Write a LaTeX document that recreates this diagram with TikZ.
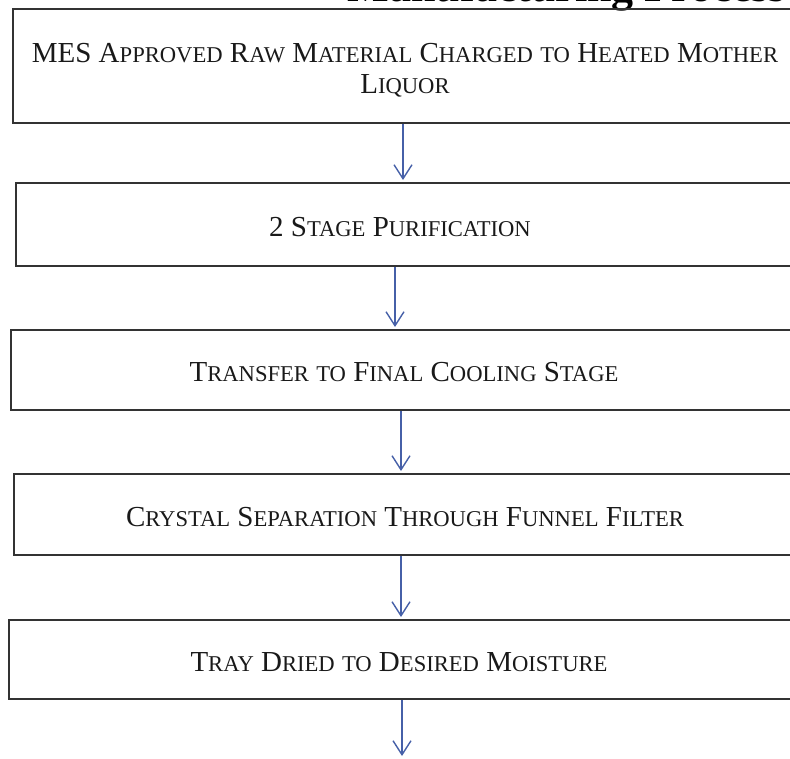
\documentclass[tikz,border=0pt]{standalone}
\usepackage{fontspec}
\setmainfont{Liberation Serif}
\usetikzlibrary{arrows.meta}
\newcommand\sk[1]{{\fontsize{22.6}{23}\selectfont #1}}
\definecolor{arrowblue}{HTML}{4660A8}
\definecolor{boxline}{HTML}{333333}
\tikzset{
  x=1pt, y=-1pt,
  stepbox/.style={draw=boxline, line width=1.8pt, minimum width=788pt, anchor=north west, inner sep=0pt},
  lbl/.style={font=\fontsize{29}{31}\selectfont, text=black!90, align=center, inner sep=0pt},
  arr/.style={draw=arrowblue, line width=1.4pt, -{Straight Barb[length=14pt, width=18pt, line width=1.4pt]}},
}
\begin{document}
\begin{tikzpicture}
\useasboundingbox (0,0) rectangle (790,758);
\clip (0,0) rectangle (790,758);
% cut-off title
\node[anchor=base east, inner sep=0pt, font=\bfseries\fontsize{44}{44}\selectfont] (title) at (786,1) {Manufacturing Process};
% boxes
\node[stepbox, minimum height=114pt] (b1) at (12,8) {};
\node[stepbox, minimum height=83pt] (b2) at (15,182) {};
\node[stepbox, minimum height=80pt] (b3) at (10,329) {};
\node[stepbox, minimum height=81pt] (b4) at (13,473) {};
\node[stepbox, minimum height=79pt] (b5) at (8,619) {};
% labels
\node[lbl] (t1) at (405,70) {MES A\sk{PPROVED} R\sk{AW} M\sk{ATERIAL} C\sk{HARGED} \sk{TO} H\sk{EATED} M\sk{OTHER}\\ L\sk{IQUOR}};
\node[lbl] (t2) at (400,227) {2 S\sk{TAGE} P\sk{URIFICATION}};
\node[lbl] (t3) at (404,372) {T\sk{RANSFER} \sk{TO} F\sk{INAL} C\sk{OOLING} S\sk{TAGE}};
\node[lbl] (t4) at (405,517) {C\sk{RYSTAL} S\sk{EPARATION} T\sk{HROUGH} F\sk{UNNEL} F\sk{ILTER}};
\node[lbl] (t5) at (399,662) {T\sk{RAY} D\sk{RIED} \sk{TO} D\sk{ESIRED} M\sk{OISTURE}};
% arrow columns
\coordinate (a1) at (403,0);
\coordinate (a2) at (395,0);
\coordinate (a3) at (401,0);
\coordinate (a4) at (401,0);
\coordinate (a5) at (402,0);
\coordinate (end) at (402,756);
\draw[arr] (b1.south -| a1) -- ([yshift=2pt]b2.north -| a1);
\draw[arr] (b2.south -| a2) -- ([yshift=2pt]b3.north -| a2);
\draw[arr] (b3.south -| a3) -- ([yshift=2pt]b4.north -| a3);
\draw[arr] (b4.south -| a4) -- ([yshift=2pt]b5.north -| a4);
\draw[arr] (b5.south -| a5) -- (end);
\end{tikzpicture}
\end{document}
